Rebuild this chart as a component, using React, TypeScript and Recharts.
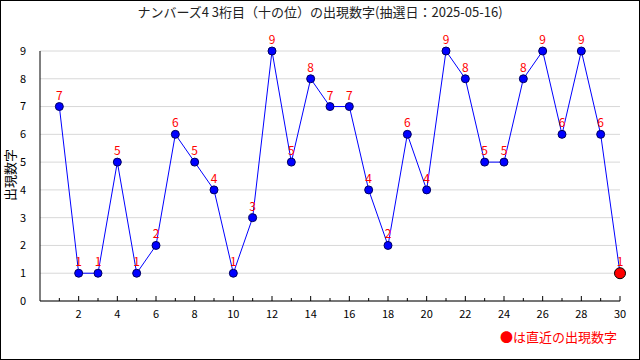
import { LineChart, Line, XAxis, YAxis, CartesianGrid, LabelList } from 'recharts'

const draws = [1, 2, 3, 4, 5, 6, 7, 8, 9, 10, 11, 12, 13, 14, 15, 16, 17, 18, 19, 20, 21, 22, 23, 24, 25, 26, 27, 28, 29, 30]
const digits = [7, 1, 1, 5, 1, 2, 6, 5, 4, 1, 3, 9, 5, 8, 7, 7, 4, 2, 6, 4, 9, 8, 5, 5, 8, 9, 6, 9, 6, 1]
const yTicks = [0, 1, 2, 3, 4, 5, 6, 7, 8, 9]

const data = draws.map((n, i) => ({ n, v: digits[i] }))

const font = '"Noto Sans CJK JP", "DejaVu Sans", sans-serif'

function XTick(props: any) {
  const { x, y, payload } = props
  const even = payload.value % 2 === 0
  return (
    <g>
      <line x1={x} x2={x} y1={y} y2={y - (even ? 5 : 3)} stroke="#000" />
      {even && (
        <text x={x} y={y + 17} textAnchor="middle" fontSize={11} fill="#000" fontFamily={font}>
          {payload.value}
        </text>
      )}
    </g>
  )
}

function Dot(props: any) {
  const { cx, cy, index } = props
  if (index === digits.length - 1) {
    return <circle key={index} cx={cx} cy={cy} r={5.5} fill="#ff0000" stroke="#000" strokeWidth={1} />
  }
  return <circle key={index} cx={cx} cy={cy} r={4} fill="#0000ff" stroke="#000060" strokeWidth={1} />
}

export default function App() {
  return (
    <div style={{ position: 'absolute', left: 0, top: 0, width: 638, height: 358, border: '1px solid #000', background: '#fff', fontFamily: font }}>
      <div style={{ position: 'absolute', top: 1, left: 0, width: 638, textAlign: 'center', fontSize: 13, color: '#222' }}>
        ナンバーズ4 3桁目（十の位）の出現数字(抽選日：2025-05-16)
      </div>
      <div style={{ position: 'absolute', left: -21, top: 165, width: 60, height: 18, lineHeight: '18px', textAlign: 'center', transform: 'rotate(-90deg)', fontSize: 13, color: '#000', whiteSpace: 'nowrap' }}>
        出現数字
      </div>
      <div style={{ position: 'absolute', left: 499, top: 326, fontSize: 13, color: '#ff0000' }}>
        ●は直近の出現数字
      </div>
      <div style={{ position: 'absolute', left: -1, top: 0 }}>
        <LineChart width={640} height={360} data={data} margin={{ top: 50, right: 20, bottom: 30, left: 0 }}>
          <CartesianGrid vertical={false} stroke="#d8d8d8" />
          <XAxis
            dataKey="n"
            type="number"
            domain={[0, 30]}
            ticks={draws}
            interval={0}
            tickSize={0}
            tickMargin={0}
            tickLine={false}
            tick={<XTick />}
            axisLine={{ stroke: '#000' }}
            height={30}
          />
          <YAxis
            domain={[0, 9]}
            ticks={yTicks}
            interval={0}
            tickLine={false}
            axisLine={{ stroke: '#000' }}
            width={40}
            tickMargin={8}
            tick={{ fontSize: 11, fill: '#000', fontFamily: font }}
          />
          <Line
            type="linear"
            dataKey="v"
            stroke="#0000ff"
            strokeWidth={1}
            dot={<Dot />}
            isAnimationActive={false}
          >
            <LabelList dataKey="v" position="top" offset={7} fill="#ff0000" fontSize={12} fontFamily={font} />
          </Line>
        </LineChart>
      </div>
    </div>
  )
}
